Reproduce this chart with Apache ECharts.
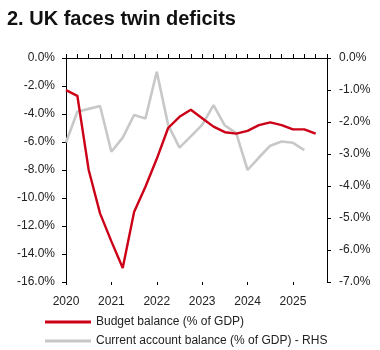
<!DOCTYPE html>
<html>
<head>
<meta charset="utf-8">
<script src="https://cdn.jsdelivr.net/npm/echarts@6/dist/echarts.min.js"></script>
<style>
  html, body { margin: 0; padding: 0; background: #fff; }
  #chart { width: 380px; height: 350px; }
</style>
</head>
<body>
<div id="chart"></div>
<script>
// quarters 2020Q1 .. 2025Q4
var quarters = [
  '2020Q1', '2020Q2', '2020Q3', '2020Q4',
  '2021Q1', '2021Q2', '2021Q3', '2021Q4',
  '2022Q1', '2022Q2', '2022Q3', '2022Q4',
  '2023Q1', '2023Q2', '2023Q3', '2023Q4',
  '2024Q1', '2024Q2', '2024Q3', '2024Q4',
  '2025Q1', '2025Q2', '2025Q3', '2025Q4'
];
// budget balance, % of GDP (left axis)
var budgetBalance = [
  -2.3, -2.7, -8.0, -11.1, -13.1, -15.0, -11.0, -9.2,
  -7.2, -5.0, -4.2, -3.7, -4.3, -4.9, -5.3, -5.4,
  -5.2, -4.8, -4.6, -4.8, -5.1, -5.1, -5.4, null
];
// current account balance, % of GDP (right axis)
var currentAccount = [
  -2.64, -1.68, -1.59, -1.50, -2.93, -2.49, -1.78, -1.89,
  -0.43, -2.09, -2.80, -2.45, -2.09, -1.47, -2.11, -2.35,
  -3.50, -3.11, -2.74, -2.61, -2.65, -2.88, null, null
];
var seriesNames = ['Budget balance (% of GDP)', 'Current account balance (% of GDP) - RHS'];

var font = 'Liberation Sans, Arial, sans-serif';
var txt = '#222';
function pct(v) { return (v === 0 ? 0 : v).toFixed(1) + '%'; }

var chart = echarts.init(document.getElementById('chart'));
var rect = { left: 66, right: 53, top: 58, bottom: 68 };

chart.setOption({
  animation: false,
  title: {
    text: '2. UK faces twin deficits',
    left: 2, top: 4,
    textStyle: { fontFamily: font, fontSize: 20, fontWeight: 'bold', color: '#111' }
  },
  legend: [
    {
      data: [seriesNames[0]], left: 40, top: 311, orient: 'vertical',
      icon: 'rect', itemWidth: 46, itemHeight: 3, itemGap: 4,
      textStyle: { fontFamily: font, fontSize: 12, color: txt }
    },
    {
      data: [seriesNames[1]], left: 40, top: 330, orient: 'vertical',
      icon: 'rect', itemWidth: 46, itemHeight: 3, itemGap: 4,
      textStyle: { fontFamily: font, fontSize: 12, color: txt }
    }
  ],
  grid: [
    { left: rect.left, right: rect.right, top: rect.top, bottom: rect.bottom },
    { left: rect.left, right: rect.right, top: rect.top, bottom: rect.bottom }
  ],
  xAxis: [
    {
      // axis line at zero, quarterly ticks pointing up
      type: 'category', gridIndex: 0, position: 'top', data: quarters, boundaryGap: false,
      axisLine: { show: true, onZero: false, lineStyle: { color: '#000', width: 1 } },
      axisTick: { show: true, interval: 0, length: 4, lineStyle: { color: '#000' } },
      axisLabel: { show: false }, splitLine: { show: false }
    },
    {
      type: 'category', gridIndex: 0, position: 'bottom', data: quarters, boundaryGap: false,
      axisLine: { show: false }, axisTick: { show: false }, splitLine: { show: false },
      axisLabel: {
        interval: 3, margin: 14, fontFamily: font, fontSize: 12, color: txt,
        formatter: function (v) { return v.slice(0, 4); }
      }
    },
    {
      // yearly ticks pointing down into the plot
      type: 'category', gridIndex: 1, position: 'top', data: quarters, boundaryGap: false,
      axisLine: { show: false },
      axisTick: { show: true, inside: true, interval: 3, length: 3, lineStyle: { color: '#000' } },
      axisLabel: { show: false }, splitLine: { show: false }
    }
  ],
  yAxis: [
    {
      type: 'value', gridIndex: 0, position: 'left', min: -16, max: 0, interval: 2,
      axisLine: { show: true, lineStyle: { color: '#000' } },
      axisTick: { show: true, length: 4, lineStyle: { color: '#000' } },
      splitLine: { show: false },
      axisLabel: { margin: 11, fontFamily: font, fontSize: 12, color: txt, formatter: pct }
    },
    {
      type: 'value', gridIndex: 0, position: 'right', min: -7, max: 0, interval: 1,
      axisLine: { show: true, lineStyle: { color: '#000' } },
      axisTick: { show: true, length: 4, lineStyle: { color: '#000' } },
      splitLine: { show: false },
      axisLabel: { margin: 12, fontFamily: font, fontSize: 12, color: txt, formatter: pct }
    },
    {
      type: 'value', gridIndex: 1, min: 0, max: 1, show: false
    }
  ],
  series: [
    {
      name: seriesNames[1], type: 'line', xAxisIndex: 0, yAxisIndex: 1,
      data: currentAccount, symbol: 'none', z: 2,
      lineStyle: { color: '#c8c8c8', width: 2.6 }, itemStyle: { color: '#c8c8c8' }
    },
    {
      name: seriesNames[0], type: 'line', xAxisIndex: 0, yAxisIndex: 0,
      data: budgetBalance, symbol: 'none', z: 3,
      lineStyle: { color: '#cc0016', width: 2.4 }, itemStyle: { color: '#cc0016' }
    }
  ]
});
</script>
</body>
</html>
